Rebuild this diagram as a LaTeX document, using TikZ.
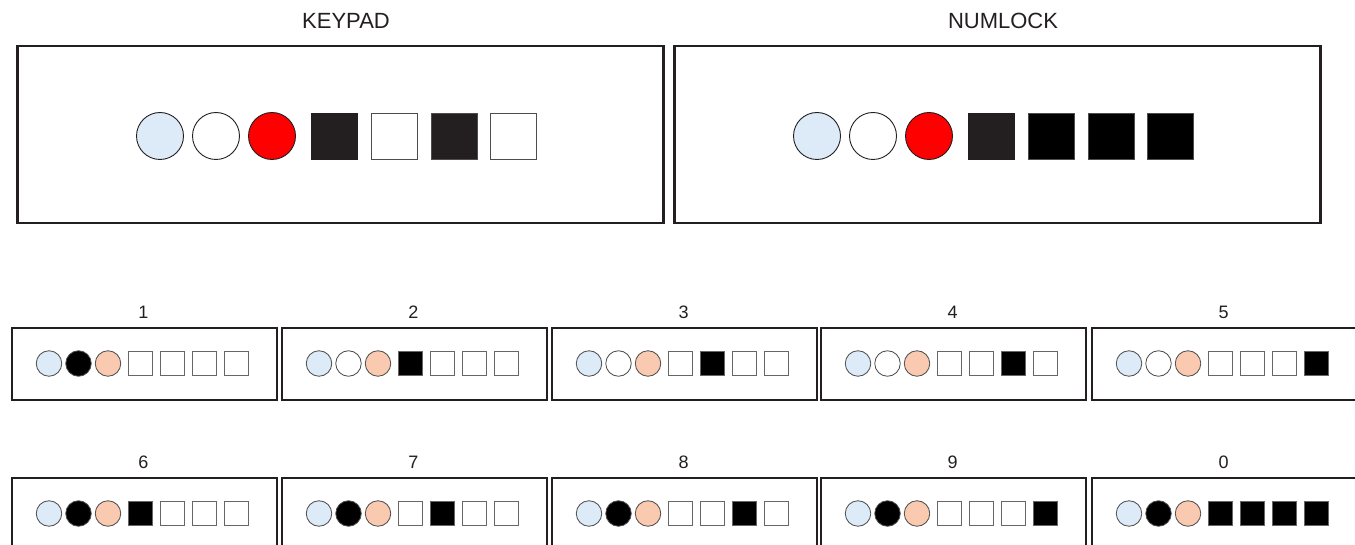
\documentclass[tikz,border=0pt]{standalone}
\usepackage{fontspec}
\setmainfont{Liberation Sans}
\definecolor{lblue}{HTML}{DCEBF7}
\definecolor{peach}{HTML}{F9C9B0}
\definecolor{dark}{HTML}{231F20}
\tikzset{
 bigframe/.style={draw=dark, line width=2.5pt, minimum width=646pt, minimum height=177pt, inner sep=0pt, anchor=north west},
 bigdot/.style={circle, draw=dark, line width=0.9pt, minimum size=47pt, inner sep=0pt},
 bigsq/.style={rectangle, draw=dark!80, line width=1pt, minimum size=46pt, inner sep=0pt},
 smframe/.style={draw=dark, line width=1.6pt, minimum width=265pt, minimum height=72pt, inner sep=0pt, anchor=north west},
 smdot/.style={circle, draw=black!70, line width=0.8pt, minimum size=25.5pt, inner sep=0pt},
 smsq/.style={rectangle, draw=black!60, line width=0.9pt, minimum size=24.5pt, inner sep=0pt},
 biglabel/.style={font=\fontsize{22}{26}\selectfont, text=dark},
 smlabel/.style={font=\fontsize{18}{22}\selectfont, text=dark},
}
\newcommand\kbox[9]{%
 \node[smframe] (#1) at (#2,#3) {};
 \node[smlabel] (#1-l) at (#2+132.5,#3-15) {#4};
 \node[smdot, fill=lblue] (#1-a) at (#2+38,#3+36.5) {};
 \node[smdot, fill=#5] (#1-b) at (#2+67.5,#3+36.5) {};
 \node[smdot, fill=peach] (#1-c) at (#2+97,#3+36.5) {};
 \node[smsq, fill=#6] (#1-d) at (#2+129.5,#3+36.5) {};
 \node[smsq, fill=#7] (#1-e) at (#2+161.5,#3+36.5) {};
 \node[smsq, fill=#8] (#1-f) at (#2+193.5,#3+36.5) {};
 \node[smsq, fill=#9] (#1-g) at (#2+225.5,#3+36.5) {};
}
\newcommand\bigbox[8]{%
 \node[bigframe] (#1) at (#2,45) {};
 \node[biglabel] (#1-l) at (#2+330,21) {#3};
 \node[bigdot, fill=lblue] (#1-a) at (#2+144,136) {};
 \node[bigdot, fill=white] (#1-b) at (#2+200,136) {};
 \node[bigdot, fill=red] (#1-c) at (#2+256,136) {};
 \node[bigsq, fill=#4, draw=#4] (#1-d) at (#2+318,137) {};
 \node[bigsq, fill=#5] (#1-e) at (#2+378,137) {};
 \node[bigsq, fill=#6] (#1-f) at (#2+438,137) {};
 \node[bigsq, fill=#7] (#1-g) at (#2+497,137) {};
}
\begin{document}
\begin{tikzpicture}[x=1pt,y=-1pt]
\useasboundingbox[fill=white] (0,0) rectangle (1355,545);
\bigbox{keypad}{16}{KEYPAD}{dark}{white}{dark}{white}{}
\bigbox{numlock}{673}{NUMLOCK}{dark}{black}{black}{black}{}
\kbox{k1}{11}{327}{1}{black}{white}{white}{white}{white}
\kbox{k2}{281}{327}{2}{white}{black}{white}{white}{white}
\kbox{k3}{551}{327}{3}{white}{white}{black}{white}{white}
\kbox{k4}{820}{327}{4}{white}{white}{white}{black}{white}
\kbox{k5}{1091}{327}{5}{white}{white}{white}{white}{black}
\kbox{k6}{11}{477}{6}{black}{black}{white}{white}{white}
\kbox{k7}{281}{477}{7}{black}{white}{black}{white}{white}
\kbox{k8}{551}{477}{8}{black}{white}{white}{black}{white}
\kbox{k9}{820}{477}{9}{black}{white}{white}{white}{black}
\kbox{k0}{1091}{477}{0}{black}{black}{black}{black}{black}
\end{tikzpicture}
\end{document}
